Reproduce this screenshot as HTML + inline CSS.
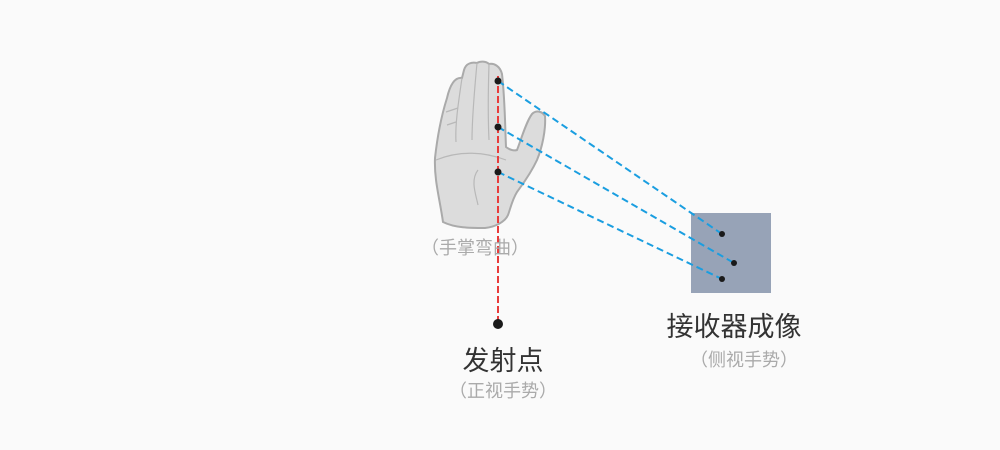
<!DOCTYPE html>
<html><head><meta charset="utf-8"><style>
html,body{margin:0;padding:0;background:#fafafa;}
svg{display:block}
text{font-family:"Liberation Sans","Noto Sans CJK SC",sans-serif;}
</style></head><body>
<svg width="1000" height="450" viewBox="0 0 1000 450">
<rect width="1000" height="450" fill="#fafafa"/>
<path d="M443,222 C440,200 434,180 435,158 C437,140 440,120 447,98 C450,85 455,77 462,78 L464,70 C466,63 472,62 477,63 C480,61 486,61 489,64 C494,63 500,66 502,74 C505,100 505,125 506,147 C510,150 514,151 517,150 C521,140 526,122 532,114 C536,110 542,111 545,116 C546,130 542,148 537,160 C530,175 522,185 517,192 C512,200 510,210 508,215 C505,222 495,227 485,228 C470,228 455,228 443,222 Z" fill="#dcdcdc" stroke="#aaaaaa" stroke-width="2"/>
<g fill="none" stroke="#b8b8b8" stroke-width="1.2">
<path d="M462,78 C458,105 455,125 456,142"/>
<path d="M477,63 C474,95 472,120 472,140"/>
<path d="M489,64 C488,95 488,120 489,140"/>
<path d="M436,160 C460,150 485,152 506,160"/>
<path d="M478,170 C470,180 476,195 478,205"/>
<path d="M447,125 L456,122 M446,112 L458,108"/>
</g>
<line x1="498" y1="76" x2="498" y2="324" stroke="#e83b3b" stroke-width="2" stroke-dasharray="7,3"/>
<circle cx="498" cy="324" r="5" fill="#1a1a1a"/>
<rect x="691" y="213" width="80" height="80" fill="#97a3b7"/>
<g stroke="#1a9ee0" stroke-width="2" stroke-dasharray="7,4">
<line x1="498" y1="81" x2="722" y2="234"/>
<line x1="498" y1="127" x2="734" y2="263"/>
<line x1="498" y1="172" x2="722" y2="279"/>
</g>
<g fill="#1a1a1a">
<circle cx="498" cy="81" r="3.5"/><circle cx="498" cy="127" r="3.5"/><circle cx="498" cy="172" r="3.5"/>
<circle cx="722" cy="234" r="3"/><circle cx="734" cy="263" r="3"/><circle cx="722" cy="279" r="3"/>
</g>
<text x="475" y="254" font-size="18" fill="#aaaaaa" text-anchor="middle">（手掌弯曲）</text>
<text x="503" y="370" font-size="27" fill="#333" text-anchor="middle">发射点</text>
<text x="503" y="397" font-size="18" fill="#aaaaaa" text-anchor="middle">（正视手势）</text>
<text x="734" y="336" font-size="27" fill="#333" text-anchor="middle">接收器成像</text>
<text x="744" y="366" font-size="18" fill="#aaaaaa" text-anchor="middle">（侧视手势）</text>
</svg>
</body></html>
